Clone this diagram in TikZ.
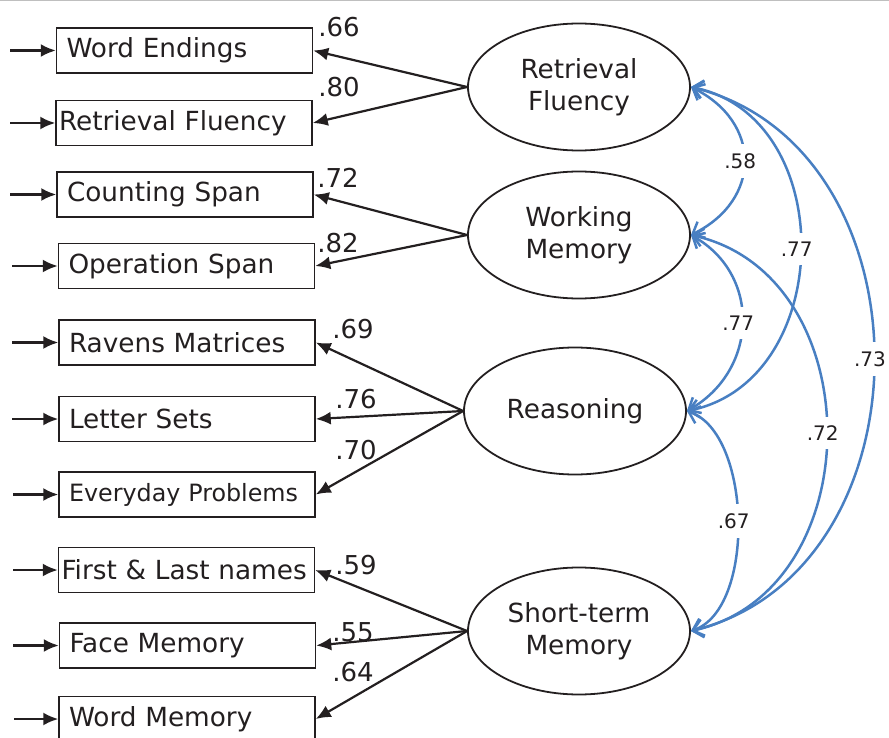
\documentclass[tikz,border=0pt]{standalone}
\usepackage{fontspec}
\setmainfont{DejaVu Sans}
\usetikzlibrary{shapes.geometric,arrows.meta}
\definecolor{ink}{RGB}{35,31,32}
\definecolor{covblue}{RGB}{72,127,194}

\begin{document}
\begin{tikzpicture}[x=1pt,y=-1pt,
  obs/.style={draw=ink,line width=1.5pt,minimum height=45pt,inner xsep=10pt,text width=236pt,align=left,text=ink,font=\fontsize{26.3}{30}\selectfont},
  longobs/.style={obs,inner xsep=3pt,text width=250pt},
  lat/.style={draw=ink,ellipse,line width=1.8pt,minimum width=222pt,minimum height=127pt,inner sep=0pt,align=center,text=ink,font=\fontsize{26.3}{32}\selectfont},
  ind/.style={draw=ink,line width=2.2pt,-{Latex[length=15pt,width=13pt]}},
  lbl/.style={text=ink,inner sep=0pt,font=\fontsize{26}{30}\selectfont},
  cov/.style={draw=covblue,line width=2.5pt,{Straight Barb[length=10pt,width=18pt]}-{Straight Barb[length=10pt,width=18pt]}},
  clbl/.style={fill=white,text=ink,inner xsep=2pt,inner ysep=9pt,xshift=-4pt,font=\fontsize{20}{24}\selectfont}]
\useasboundingbox (0,0) rectangle (889,738);
\draw[gray!50,line width=1.5pt] (0,0.75) -- (889,0.75);

% observed measures
\node[obs](we) at (184.5,50.5){Word Endings};
\node[longobs](rf) at (184,123){Retrieval Fluency};
\node[obs](cs) at (185,194.5){Counting Span};
\node[obs](os) at (186.5,266){Operation Span};
\node[obs](rm) at (187,342.5){Ravens Matrices};
\node[obs](ls) at (187,419){Letter Sets};
\node[obs,font=\fontsize{23.8}{28}\selectfont](ep) at (187,494.5){Everyday Problems};
\node[longobs](fl) at (186.5,570){First \& Last names};
\node[obs](fm) at (187.5,645.5){Face Memory};
\node[obs](wm) at (187,719){Word Memory};

% latent factors
\node[lat](RF) at (579,87){Retrieval\\Fluency};
\node[lat](WM) at (579,235){Working\\Memory};
\node[lat](RE) at (575,411){Reasoning};
\node[lat](STM) at (579,631){Short-term\\Memory};

% error inputs
\coordinate (e1) at (10,50.5);
\coordinate (e2) at (10,123);
\coordinate (e3) at (10,194.5);
\coordinate (e4) at (12,266);
\coordinate (e5) at (12,342.5);
\coordinate (e6) at (12,419);
\coordinate (e7) at (13,494.5);
\coordinate (e8) at (13,570);
\coordinate (e9) at (13,645.5);
\coordinate (e10) at (14,719);
\draw[ind] (e1) -- (we);
\draw[ind] (e2) -- (rf);
\draw[ind] (e3) -- (cs);
\draw[ind] (e4) -- (os);
\draw[ind] (e5) -- (rm);
\draw[ind] (e6) -- (ls);
\draw[ind] (e7) -- (ep);
\draw[ind] (e8) -- (fl);
\draw[ind] (e9) -- (fm);
\draw[ind] (e10) -- (wm);

% loadings
\draw[ind] (RF.west) -- (we.east);
\draw[ind] (RF.west) -- (rf.east);
\draw[ind] (WM.west) -- (cs.east);
\draw[ind] (WM.west) -- (os.east);
\draw[ind] (RE.west) -- (rm.east);
\draw[ind] (RE.west) -- (ls.east);
\draw[ind] (RE.west) -- (ep.east);
\draw[ind] (STM.west) -- (fl.east);
\draw[ind] (STM.west) -- (fm.east);
\draw[ind] (STM.west) -- (wm.east);
\node[lbl](l1) at (339,27){.66};
\node[lbl](l2) at (339,87){.80};
\node[lbl](l3) at (338,178){.72};
\node[lbl](l4) at (338,243){.82};
\node[lbl](l5) at (353,329){.69};
\node[lbl](l6) at (356,399){.76};
\node[lbl](l7) at (356,450){.70};
\node[lbl](l8) at (356,565){.59};
\node[lbl](l9) at (353,632){.55};
\node[lbl](l10) at (353,672){.64};

% factor correlations
\draw[cov] (RF.east) .. controls +(71,35) and +(71,-35) .. (WM.east) node[clbl,pos=.5](c1){.58};
\draw[cov] (WM.east) .. controls +(71,40) and +(71,-40) .. (RE.east) node[clbl,pos=.5](c2){.77};
\draw[cov] (RE.east) .. controls +(65,22) and +(65,-22) .. (STM.east) node[clbl,pos=.5](c3){.67};
\draw[cov] (RF.east) .. controls +(149,30) and +(149,-30) .. (RE.east) node[clbl,pos=.5](c4){.77};
\draw[cov] (WM.east) .. controls +(181,40) and +(181,-40) .. (STM.east) node[clbl,pos=.5](c5){.72};
\draw[cov] (RF.east) .. controls +(244,60) and +(244,-60) .. (STM.east) node[clbl,pos=.5](c6){.73};
\end{tikzpicture}
\end{document}
